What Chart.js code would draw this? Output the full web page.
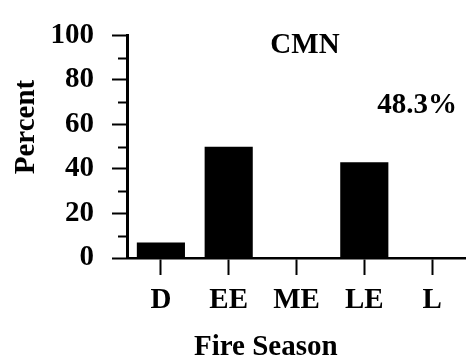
<!DOCTYPE html>
<html>
<head>
<meta charset="utf-8">
<script src="https://cdn.jsdelivr.net/npm/chart.js@4/dist/chart.umd.min.js"></script>
<style>
  html, body { margin: 0; padding: 0; background: #fff; }
  #wrap { width: 466px; height: 361px; position: relative; }
</style>
</head>
<body>
<div id="wrap"><canvas id="c"></canvas></div>
<script>
// Share of fires by fire season
const categories = ['D', 'EE', 'ME', 'LE', 'L'];
const percentValues = [7, 50, 0, 43, 0];
const yTickValues = [0, 20, 40, 60, 80, 100];
const minorTickValues = [10, 30, 50, 70, 90];
const panelTitle = 'CMN';
const panelNote = '48.3%';
const xTitle = 'Fire Season';
const yTitle = 'Percent';

const FONT = '"Liberation Serif", "Times New Roman", serif';

// short minor ticks on the y axis plus the free-standing texts
const extras = {
  id: 'extras',
  afterDraw(chart) {
    const ctx = chart.ctx;
    const y = chart.scales.y;
    const area = chart.chartArea;
    ctx.save();
    ctx.strokeStyle = '#000';
    ctx.lineWidth = 2;
    minorTickValues.forEach(v => {
      const py = Math.round(y.getPixelForValue(v)) + 0.5;
      ctx.beginPath();
      ctx.moveTo(area.left - 9, py);
      ctx.lineTo(area.left, py);
      ctx.stroke();
    });

    ctx.fillStyle = '#000';
    ctx.font = 'bold 29px ' + FONT;
    ctx.textBaseline = 'middle';
    ctx.textAlign = 'center';
    ctx.fillText(panelTitle, 305, 46);
    ctx.fillText(panelNote, 417, 106);

    ctx.textAlign = 'left';
    ctx.textBaseline = 'alphabetic';
    ctx.fillText(xTitle, 194, 355);

    ctx.translate(34, 127);
    ctx.rotate(-Math.PI / 2);
    ctx.textAlign = 'center';
    ctx.fillText(yTitle, 0, 0);
    ctx.restore();
  }
};

new Chart(document.getElementById('c'), {
  type: 'bar',
  data: {
    labels: categories,
    datasets: [{
      data: percentValues,
      backgroundColor: '#000',
      borderWidth: 0,
      barPercentage: 0.71,
      categoryPercentage: 1
    }]
  },
  options: {
    responsive: true,
    maintainAspectRatio: false,
    animation: false,
    layout: { padding: { top: 30, left: 0, right: 0, bottom: 0 } },
    plugins: { legend: { display: false }, tooltip: { enabled: false } },
    scales: {
      x: {
        offset: true,
        grid: {
          offset: false,
          drawOnChartArea: false,
          drawTicks: true,
          tickLength: 17,
          tickWidth: 2,
          tickColor: '#000'
        },
        border: { display: true, color: '#000', width: 2.5 },
        ticks: {
          color: '#000',
          padding: 8,
          font: { family: FONT, size: 29, weight: 'bold' }
        },
        afterFit(scale) { scale.height = 103; }
      },
      y: {
        min: 0,
        max: 100,
        afterBuildTicks(scale) {
          scale.ticks = yTickValues.map(v => ({ value: v }));
        },
        grid: {
          drawOnChartArea: false,
          drawTicks: true,
          tickLength: 15,
          tickWidth: 2,
          tickColor: '#000'
        },
        border: { display: true, color: '#000', width: 3 },
        ticks: {
          color: '#000',
          padding: 18,
          font: { family: FONT, size: 29, weight: 'bold' }
        },
        afterFit(scale) { scale.width = 127; }
      }
    }
  },
  plugins: [extras]
});
</script>
</body>
</html>
